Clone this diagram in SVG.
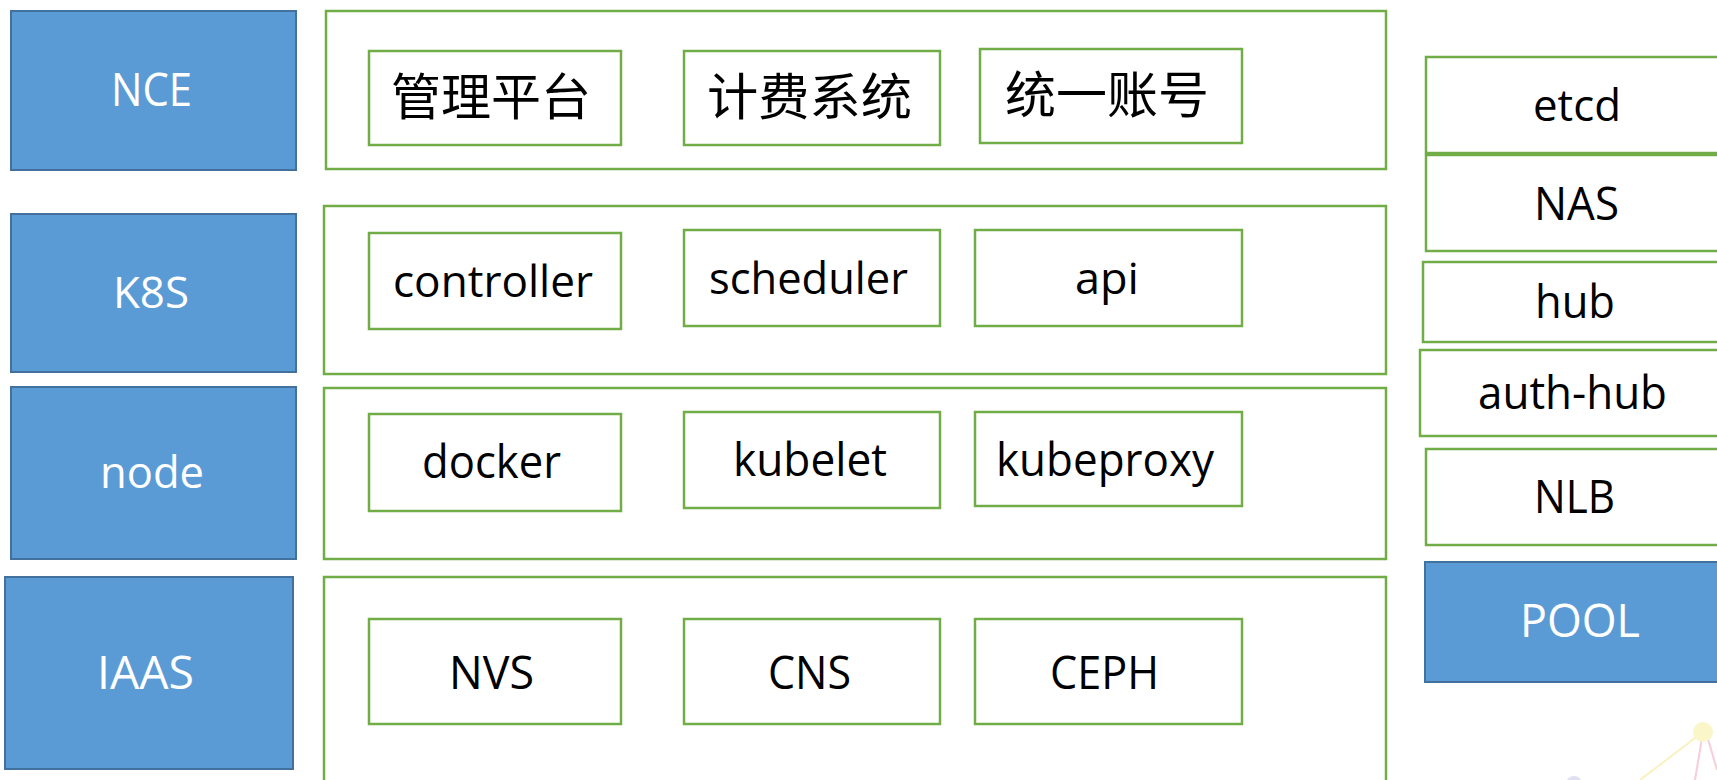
<svg xmlns="http://www.w3.org/2000/svg" width="1717" height="780" viewBox="0 0 1717 780">
<style>
.blue{fill:#5B9BD5;stroke:#41719C;stroke-width:2}
.grp{fill:#FFFFFF;stroke:#70AD47;stroke-width:2.5}
.box{fill:#FFFFFF;stroke:#70AD47;stroke-width:2.5}
.wt{font-family:"Open Sans","Noto Sans",sans-serif;fill:#FFFFFF}
.bt{font-family:"Open Sans","Noto Sans",sans-serif;fill:#000000}
.cj{font-family:"Noto Sans CJK SC","Noto Sans",sans-serif;fill:#000000}
</style>
<rect x="0" y="0" width="1717" height="780" fill="#FFFFFF"/>
<g id="background-decor" opacity="0.55">
  <line x1="1703" y1="732" x2="1640" y2="780" stroke="#F5E98A" stroke-width="2"/>
  <line x1="1703" y1="732" x2="1695" y2="780" stroke="#F2A5B8" stroke-width="2"/>
  <line x1="1706" y1="732" x2="1717" y2="770" stroke="#F2A5B8" stroke-width="2"/>
  <circle cx="1703" cy="732" r="10" fill="#F7EFA0"/>
  <circle cx="1574" cy="784" r="8" fill="#C8C8E8"/>
</g>

<g id="nce"><rect class="blue" x="11" y="11" width="285" height="159"/><text class="wt" x="111" y="106" font-size="45" textLength="81" lengthAdjust="spacingAndGlyphs">NCE</text></g>
<g id="k8s"><rect class="blue" x="11" y="214" width="285" height="158"/><text class="wt" x="113" y="308" font-size="44" textLength="76" lengthAdjust="spacingAndGlyphs">K8S</text></g>
<g id="node"><rect class="blue" x="11" y="387" width="285" height="172"/><text class="wt" x="100" y="488" font-size="43" textLength="104" lengthAdjust="spacingAndGlyphs">node</text></g>
<g id="iaas"><rect class="blue" x="5" y="577" width="288" height="192"/><text class="wt" x="97" y="689" font-size="45" textLength="97" lengthAdjust="spacingAndGlyphs">IAAS</text></g>

<g id="nce-layer"><rect class="grp" x="326" y="11" width="1060" height="158"/></g>
<g id="k8s-layer"><rect class="grp" x="324" y="206" width="1062" height="168"/></g>
<g id="node-layer"><rect class="grp" x="324" y="388" width="1062" height="171"/></g>
<g id="iaas-layer"><rect class="grp" x="324" y="577" width="1062" height="220"/></g>

<g id="mgmt"><rect class="box" x="369" y="51" width="252" height="94"/><text class="cj" x="391" y="115" font-size="50" textLength="200" lengthAdjust="spacingAndGlyphs">管理平台</text></g>
<g id="billing"><rect class="box" x="684" y="51" width="256" height="94"/><text class="cj" x="707" y="115" font-size="50" textLength="205" lengthAdjust="spacingAndGlyphs">计费系统</text></g>
<g id="account"><rect class="box" x="980" y="49" width="262" height="94"/><text class="cj" x="1005" y="113" font-size="50" textLength="204" lengthAdjust="spacingAndGlyphs">统一账号</text></g>

<g id="controller"><rect class="box" x="369" y="233" width="252" height="96"/><text class="bt" x="393" y="297" font-size="43" textLength="200" lengthAdjust="spacingAndGlyphs">controller</text></g>
<g id="scheduler"><rect class="box" x="684" y="230" width="256" height="96"/><text class="bt" x="709" y="294" font-size="43" textLength="199" lengthAdjust="spacingAndGlyphs">scheduler</text></g>
<g id="api"><rect class="box" x="975" y="230" width="267" height="96"/><text class="bt" x="1075" y="294" font-size="43" textLength="64" lengthAdjust="spacingAndGlyphs">api</text></g>

<g id="docker"><rect class="box" x="369" y="414" width="252" height="97"/><text class="bt" x="422" y="478" font-size="45" textLength="139" lengthAdjust="spacingAndGlyphs">docker</text></g>
<g id="kubelet"><rect class="box" x="684" y="412" width="256" height="96"/><text class="bt" x="733" y="476" font-size="45" textLength="154" lengthAdjust="spacingAndGlyphs">kubelet</text></g>
<g id="kubeproxy"><rect class="box" x="975" y="412" width="267" height="94"/><text class="bt" x="996" y="476" font-size="45" textLength="218" lengthAdjust="spacingAndGlyphs">kubeproxy</text></g>

<g id="nvs"><rect class="box" x="369" y="619" width="252" height="105"/><text class="bt" x="449" y="689" font-size="45" textLength="85" lengthAdjust="spacingAndGlyphs">NVS</text></g>
<g id="cns"><rect class="box" x="684" y="619" width="256" height="105"/><text class="bt" x="768" y="689" font-size="45" textLength="83" lengthAdjust="spacingAndGlyphs">CNS</text></g>
<g id="ceph"><rect class="box" x="975" y="619" width="267" height="105"/><text class="bt" x="1050" y="689" font-size="45" textLength="109" lengthAdjust="spacingAndGlyphs">CEPH</text></g>

<g id="etcd"><rect class="box" x="1426" y="57" width="300" height="96"/><text class="bt" x="1533" y="121" font-size="43" textLength="88" lengthAdjust="spacingAndGlyphs">etcd</text></g>
<g id="nas"><rect class="box" x="1426" y="155" width="300" height="96"/><text class="bt" x="1534" y="220" font-size="45" textLength="85" lengthAdjust="spacingAndGlyphs">NAS</text></g>
<g id="hub"><rect class="box" x="1423" y="262" width="300" height="80"/><text class="bt" x="1535" y="318" font-size="46" textLength="80" lengthAdjust="spacingAndGlyphs">hub</text></g>
<g id="auth-hub"><rect class="box" x="1420" y="350" width="300" height="86"/><text class="bt" x="1478" y="409" font-size="46" textLength="189" lengthAdjust="spacingAndGlyphs">auth-hub</text></g>
<g id="nlb"><rect class="box" x="1426" y="449" width="300" height="96"/><text class="bt" x="1534" y="513" font-size="45" textLength="81" lengthAdjust="spacingAndGlyphs">NLB</text></g>
<g id="pool"><rect class="blue" x="1425" y="562" width="300" height="120"/><text class="wt" x="1520" y="637" font-size="45" textLength="120" lengthAdjust="spacingAndGlyphs">POOL</text></g>

<g id="connectors"></g>
</svg>
